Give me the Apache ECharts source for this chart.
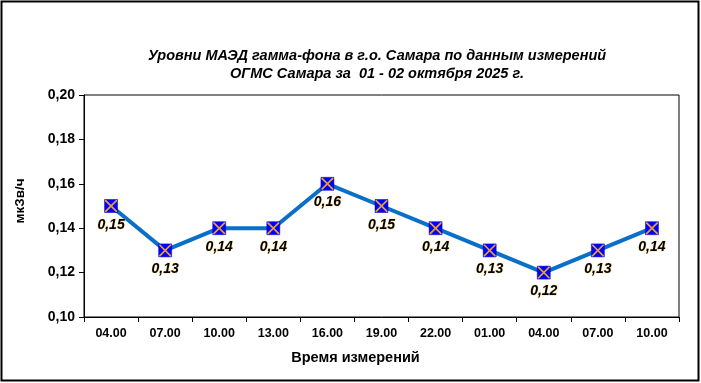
<!DOCTYPE html>
<html><head><meta charset="utf-8">
<script src="https://cdn.jsdelivr.net/npm/echarts@6/dist/echarts.min.js"></script>
<style>html,body{margin:0;padding:0;background:#fff}#c{width:701px;height:383px}</style>
</head><body><div id="c"></div>
<script>
const titleLines = ['Уровни МАЭД гамма-фона в г.о. Самара по данным измерений', 'ОГМС Самара за  01 - 02 октября 2025 г.'];
const categories = ['04.00','07.00','10.00','13.00','16.00','19.00','22.00','01.00','04.00','07.00','10.00'];
const values = [0.15,0.13,0.14,0.14,0.16,0.15,0.14,0.13,0.12,0.13,0.14];
const yTicks = {min:0.10, max:0.20, interval:0.02};
const xName = 'Время измерений';
const yName = 'мкЗв/ч';

const chart = echarts.init(document.getElementById('c'));
const fontF = 'Arial, "Liberation Sans", sans-serif';
chart.setOption({
  animation:false,
  title:{text:titleLines.join('\n'), left:372, top:42, textAlign:'center',
    textStyle:{fontFamily:fontF, fontSize:14.5, fontWeight:'bold', fontStyle:'italic', color:'#000', lineHeight:18}},
  graphic:[{type:'rect', shape:{x:1.5,y:1.5,width:697,height:379}, style:{fill:null, stroke:'#000', lineWidth:2}, silent:true}],
  grid:{left:84, right:22, top:95, bottom:66, show:true, borderColor:'#000', borderWidth:1, backgroundColor:'#fff'},
  xAxis:{type:'category', data:categories, boundaryGap:true,
    name:xName, nameLocation:'middle', nameGap:33,
    nameTextStyle:{fontFamily:fontF, fontSize:14.5, fontWeight:'bold', color:'#000', padding:[0,52,0,0]},
    axisLine:{lineStyle:{color:'#000', width:1}},
    axisTick:{show:true, length:5, lineStyle:{color:'#000'}},
    axisLabel:{fontFamily:fontF, fontSize:12.5, fontWeight:'bold', color:'#000', margin:10},
    splitLine:{show:false}},
  yAxis:{type:'value', min:yTicks.min, max:yTicks.max, interval:yTicks.interval,
    name:yName, nameLocation:'middle', nameGap:57, nameRotate:90,
    nameTextStyle:{fontFamily:fontF, fontSize:13.5, fontWeight:'bold', color:'#000', padding:[0,0,0,10]},
    axisLine:{show:true, lineStyle:{color:'#000', width:1}},
    axisTick:{show:true, length:5, lineStyle:{color:'#000'}},
    axisLabel:{fontFamily:fontF, fontSize:14, fontWeight:'bold', color:'#000', margin:9,
      formatter:v=>v.toFixed(2).replace('.',',')},
    splitLine:{show:false}},
  series:[
    {type:'line', data:values, lineStyle:{color:'#0A6FC8', width:4}, symbol:'rect', symbolSize:13,
      itemStyle:{color:'#0000FF', borderColor:'#0000C0', borderWidth:0.5},
      label:{show:true, position:'bottom', distance:5, fontFamily:fontF, fontSize:14, fontWeight:'bold', fontStyle:'italic', color:'#000',
        textBorderColor:'rgba(255,200,80,0.5)', textBorderWidth:1,
        formatter:p=>p.value.toFixed(2).replace('.',',')}, z:2},
    {type:'line', data:values, lineStyle:{opacity:0}, symbol:'path://M0,0 L1,0 L10,9 L10,10 L9,10 L0,1 Z M10,0 L10,1 L1,10 L0,10 L0,9 L9,0 Z', symbolSize:12,
      itemStyle:{color:'#E8A030'}, z:3, silent:true}
  ]
});
</script></body></html>
